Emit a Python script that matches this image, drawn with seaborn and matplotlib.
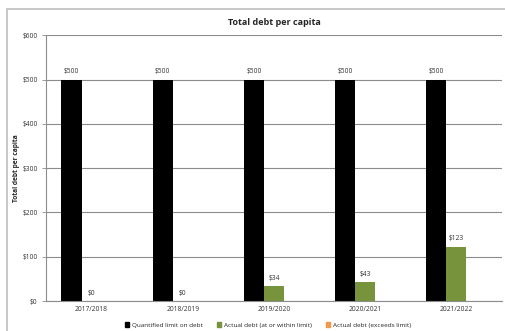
import matplotlib
matplotlib.use("Agg")
import matplotlib.pyplot as plt
import seaborn as sns
import pandas as pd
from matplotlib.patches import Rectangle
from matplotlib.ticker import FuncFormatter

years = ["2017/2018", "2018/2019", "2019/2020", "2020/2021", "2021/2022"]
limit = [500, 500, 500, 500, 500]
actual_within = [0, 0, 34, 43, 123]
actual_exceeds = [0, 0, 0, 0, 0]
series = ["Quantified limit on debt", "Actual debt (at or within limit)", "Actual debt (exceeds limit)"]
colors = ["#000000", "#77933C", "#F79646"]

rows = []
for i, y in enumerate(years):
    rows.append((y, series[0], limit[i]))
    rows.append((y, series[1], actual_within[i]))
    rows.append((y, series[2], actual_exceeds[i]))
df = pd.DataFrame(rows, columns=["year", "series", "value"])

sns.set_style("white")
plt.rcParams["font.family"] = ["Open Sans", "DejaVu Sans"]

fig = plt.figure(figsize=(5.05, 3.31), dpi=100)
ax = fig.add_axes([0.091, 0.0906, 0.903, 0.803])

sns.barplot(data=df, x="year", y="value", hue="series", palette=colors,
            hue_order=series, width=0.66, ax=ax, saturation=1, errorbar=None,
            legend=False, linewidth=0, edgecolor="none")

ax.set_ylim(0, 600)
ax.set_yticks(range(0, 601, 100))
ax.yaxis.set_major_formatter(FuncFormatter(lambda v, p: f"${int(v)}"))
ax.grid(axis="y", color="#8c8c8c", linewidth=0.8)
ax.set_axisbelow(True)
for s in ["top", "right"]:
    ax.spines[s].set_visible(False)
for s in ["left", "bottom"]:
    ax.spines[s].set_color("#8c8c8c")
    ax.spines[s].set_linewidth(0.8)
ax.tick_params(axis="both", labelsize=4.8, colors="#333333", length=3, width=0.6,
               direction="out", left=True, bottom=True)
ax.tick_params(axis="y", pad=3, color="#8c8c8c")
ax.set_xticks([i - 0.5 for i in range(6)], minor=True)
ax.tick_params(axis="x", which="major", length=0)
ax.tick_params(axis="x", which="minor", length=3, width=0.6, color="#8c8c8c")
ax.set_xlabel("")
ax.set_ylabel("Total debt per capita", fontsize=4.8, fontweight="bold")
ax.yaxis.set_label_coords(-0.057, 0.5)
ax.set_title("Total debt per capita", fontsize=6.5, fontweight="bold", pad=7)

for ci, cont in enumerate(ax.containers[:2]):
    ax.bar_label(cont, labels=[f"${int(v)}" for v in cont.datavalues],
                 fontsize=4.8, padding=3, color="#333333")

handles = [Rectangle((0, 0), 1, 1, color=c) for c in colors]
fig.legend(handles, series, loc="center", bbox_to_anchor=(0.53, 0.018), ncol=3,
           frameon=False, fontsize=4.6, handlelength=0.7, handleheight=0.7,
           handletextpad=0.4, columnspacing=2.2)

fig.patches.append(Rectangle((7 / 505, -0.01), 1.0, 1 - 9 / 331 + 0.01,
                             transform=fig.transFigure, fill=False,
                             edgecolor="#bfbfbf", linewidth=1.2))

fig.savefig("out.png", dpi=100)
